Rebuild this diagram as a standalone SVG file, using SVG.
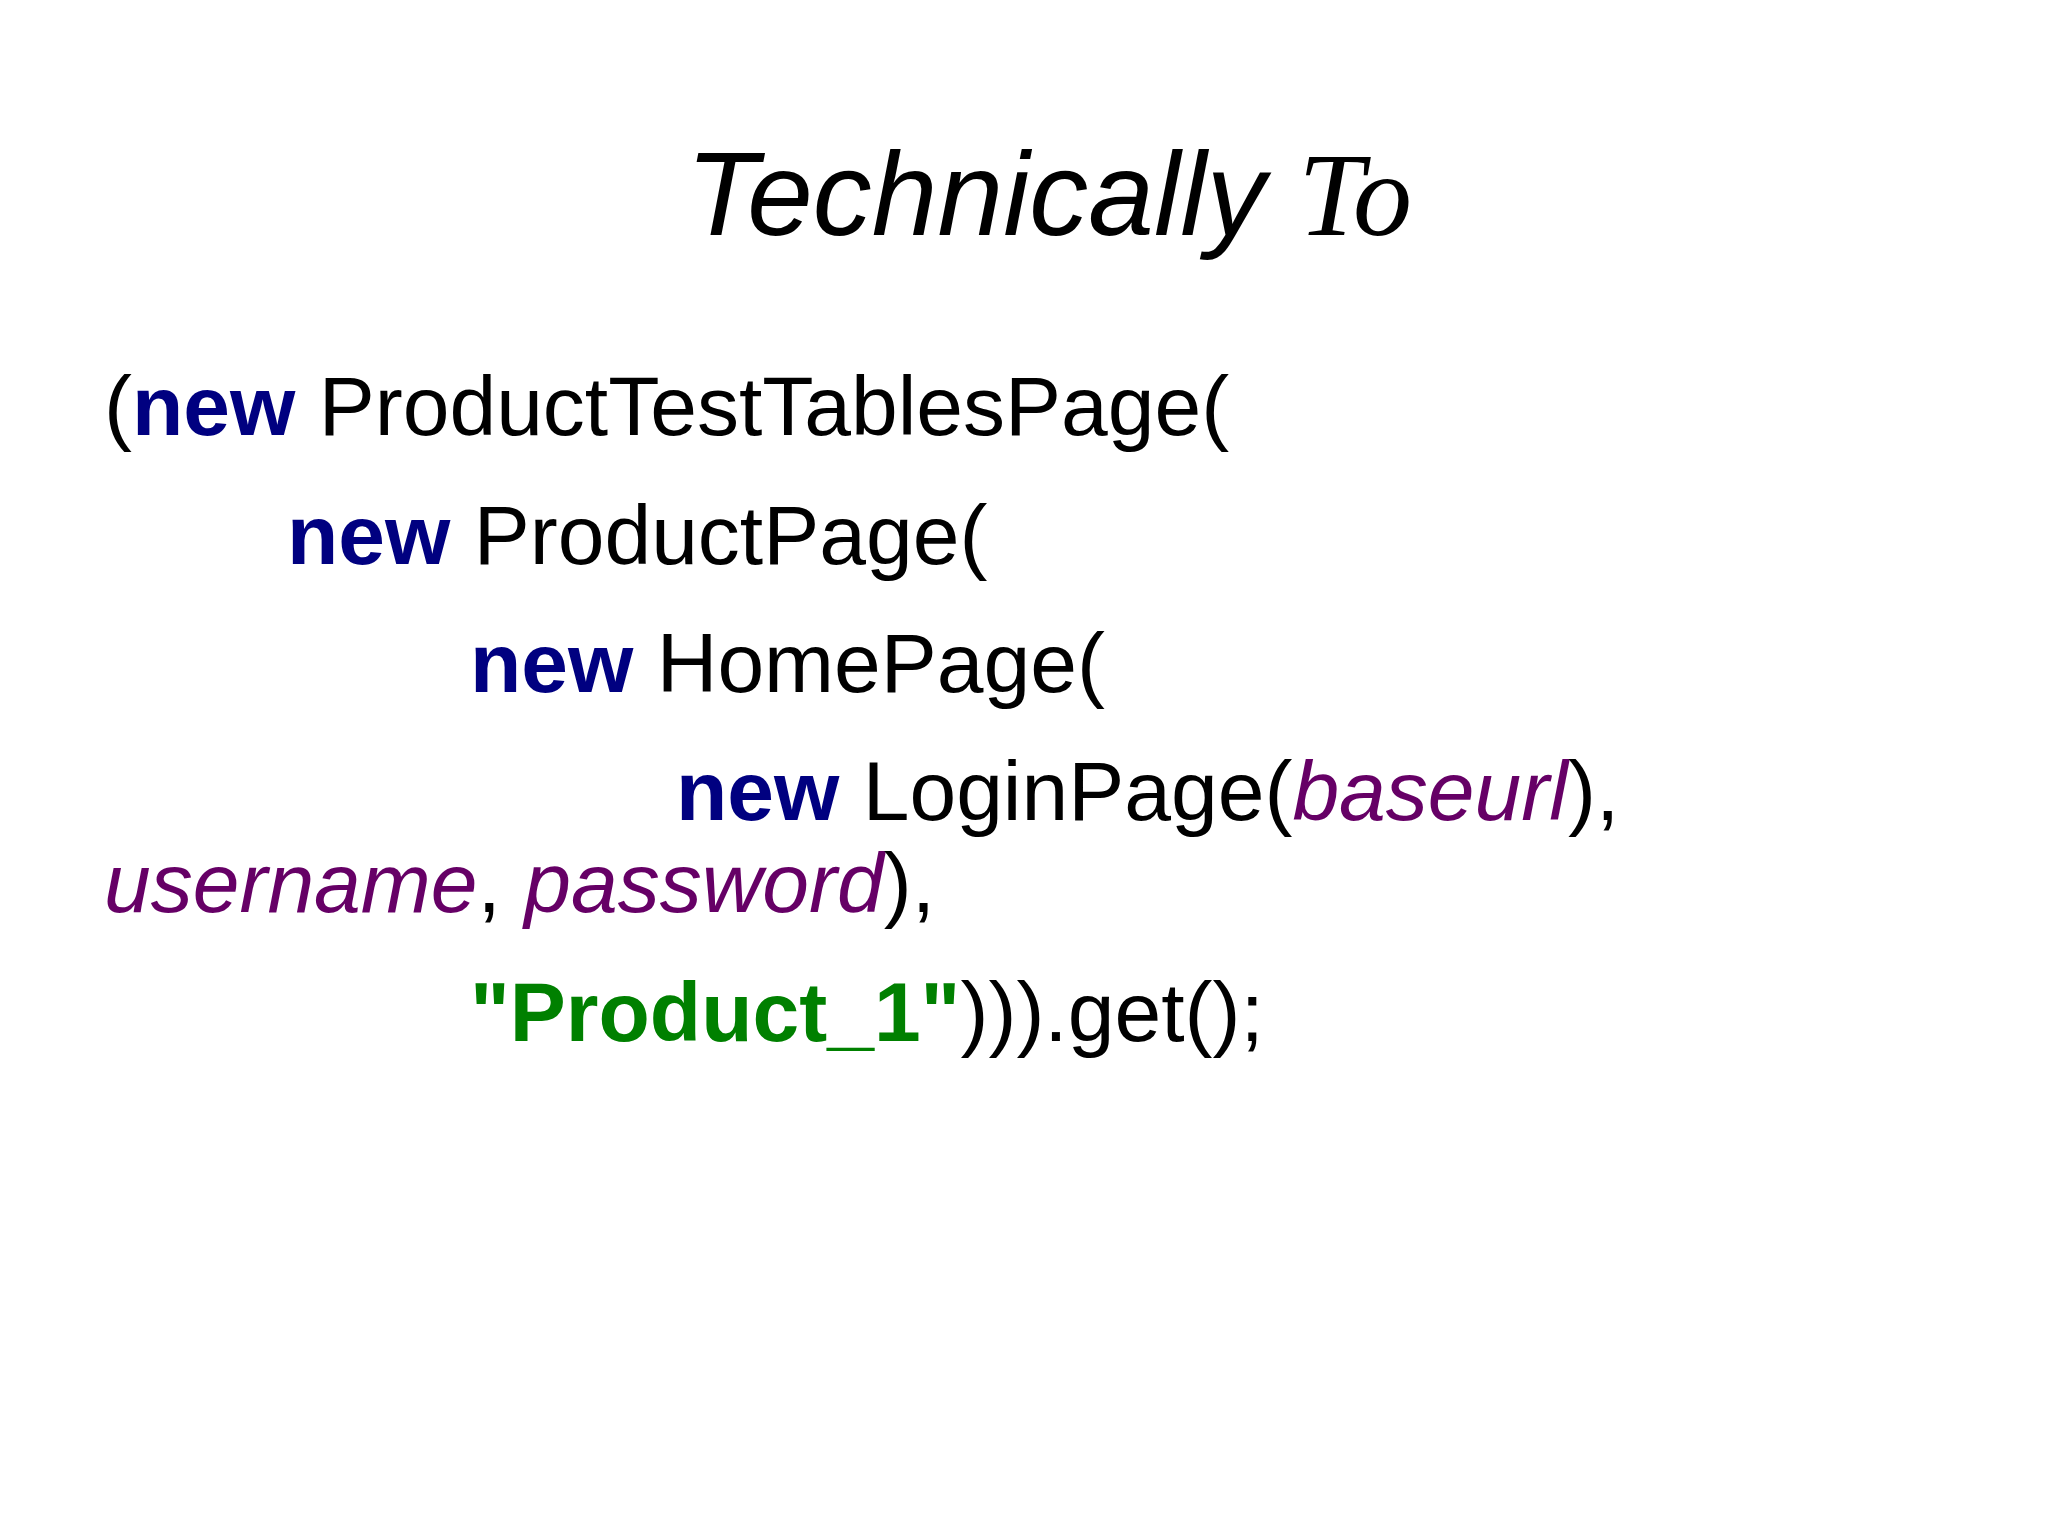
<svg xmlns="http://www.w3.org/2000/svg" width="2048" height="1535" viewBox="0 0 2048 1535">
<style>
.c{font-family:"Liberation Sans",Arial,sans-serif;font-size:84px;fill:#000}
.k{fill:#000080;font-weight:bold}
.v{fill:#660066;font-style:italic}
.s{fill:#008000;font-weight:bold}
</style>
<rect width="2048" height="1535" fill="#fff"/>
<g id="title"><text x="686" y="235" font-size="118" font-style="italic" font-family="Liberation Sans,Arial,sans-serif">Technically <tspan font-family="Liberation Serif,serif">To</tspan></text></g>
<g id="code">
<text class="c" x="104" y="435">(<tspan class="k">new</tspan> ProductTestTablesPage(</text>
<text class="c" x="287" y="564"><tspan class="k">new</tspan> ProductPage(</text>
<text class="c" x="470" y="692"><tspan class="k">new</tspan> HomePage(</text>
<text class="c" x="676" y="820"><tspan class="k">new</tspan> LoginPage(<tspan class="v">baseurl</tspan>),</text>
<text class="c" x="104" y="912"><tspan class="v">username</tspan>, <tspan class="v">password</tspan>),</text>
<text class="c" x="470" y="1041"><tspan class="s">"Product_1"</tspan>))).get();</text>
</g>
</svg>
